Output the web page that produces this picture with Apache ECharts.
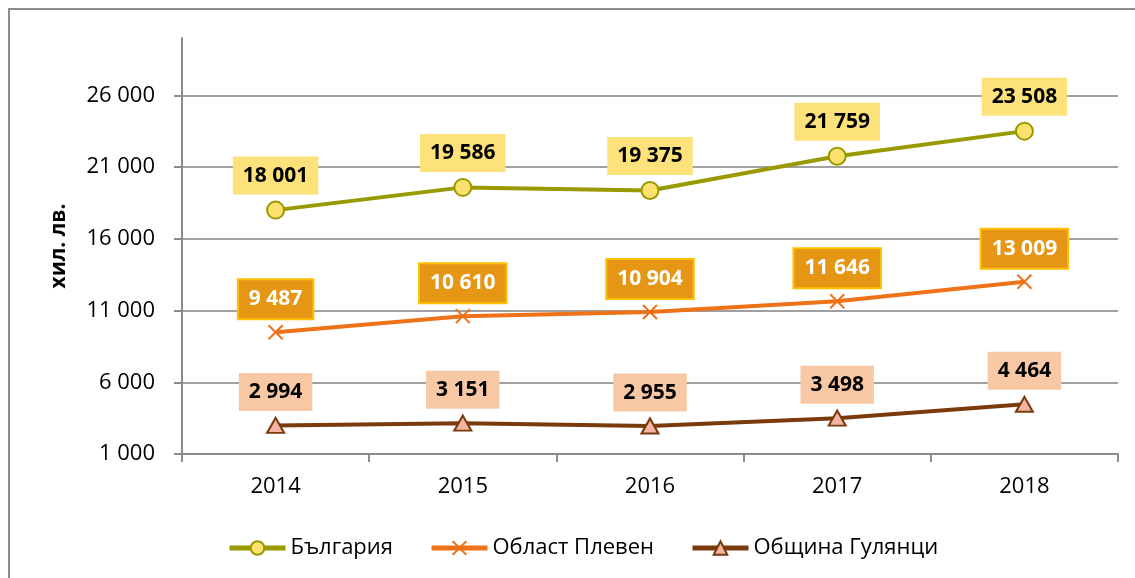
<!DOCTYPE html>
<html>
<head>
<meta charset="utf-8">
<script src="https://cdn.jsdelivr.net/npm/echarts@6/dist/echarts.min.js"></script>
<style>
    html, body { margin: 0; padding: 0; background: #fff; overflow: hidden; }
    #frame { position: absolute; left: 8px; top: 8px; width: 1300px; height: 800px; border: 2px solid #8c8c8c; }
    #chart { position: absolute; left: 0; top: 0; width: 1135px; height: 578px; }
</style>
</head>
<body>
<div id="frame"></div>
<div id="chart"></div>
<script>
// данни
const years = ['2014', '2015', '2016', '2017', '2018'];
const bulgaria = [18001, 19586, 19375, 21759, 23508];
const pleven = [9487, 10610, 10904, 11646, 13009];
const gulyantsi = [2994, 3151, 2955, 3498, 4464];
const yTicks = [1000, 6000, 11000, 16000, 21000, 26000];

const font = '"Open Sans", "Noto Sans", sans-serif';

// 18001 -> "18 001"
function fmt(v) {
    return String(v).replace(/\B(?=(\d{3})+(?!\d))/g, ' ');
}

let chartNode = echarts.init(document.getElementById('chart'));

function labelOpt(bg, color, border) {
    return {
        show: true,
        position: 'top',
        distance: 6,
        formatter: (p) => fmt(p.value),
        backgroundColor: bg,
        borderColor: border || bg,
        borderWidth: border ? 2 : 0,
        padding: [8, 10, 8, 10],
        lineHeight: 22,
        color: color,
        fontFamily: font,
        fontWeight: 'bold',
        fontSize: 21
    };
}

let option = {
    animation: false,
    textStyle: { fontFamily: font },
    grid: {
        left: 182,
        right: 17,
        top: 38,
        bottom: 124
    },
    legend: {
        left: 222,
        top: 532,
        itemWidth: 56,
        itemHeight: 17,
        itemGap: 36,
        lineStyle: { width: 5 },
        textStyle: { fontFamily: font, fontSize: 22, color: '#000' },
        data: ['България', 'Област Плевен', 'Община Гулянци']
    },
    xAxis: {
        type: 'category',
        data: years,
        boundaryGap: true,
        axisLine: { lineStyle: { color: '#8c8c8c', width: 2 } },
        axisTick: { show: true, length: 8, lineStyle: { color: '#8c8c8c', width: 2 } },
        axisLabel: { color: '#000', fontSize: 22, margin: 22, fontFamily: font },
        splitLine: { show: false }
    },
    yAxis: {
        type: 'value',
        min: 1000,
        max: 30000,
        interval: 5000,
        name: 'хил. лв.',
        nameLocation: 'middle',
        nameGap: 112,
        nameRotate: 90,
        nameTextStyle: { fontFamily: font, fontWeight: 'bold', fontSize: 21, color: '#000' },
        axisLine: { show: true, lineStyle: { color: '#8c8c8c', width: 2 } },
        axisTick: { show: true, length: 8, customValues: yTicks, lineStyle: { color: '#8c8c8c', width: 2 } },
        axisLabel: {
            customValues: yTicks,
            color: '#000',
            fontSize: 22,
            margin: 27,
            fontFamily: font,
            formatter: (v) => fmt(v)
        },
        splitLine: {
            show: true,
            lineStyle: { color: '#a0a0a0', width: 2 }
        }
    },
    series: [
        {
            name: 'България',
            type: 'line',
            data: bulgaria,
            symbol: 'circle',
            symbolSize: 17,
            lineStyle: { color: '#999900', width: 4 },
            itemStyle: { color: '#fde16e', borderColor: '#999900', borderWidth: 2 },
            label: labelOpt('#fde17a', '#000')
        },
        {
            name: 'Област Плевен',
            type: 'line',
            data: pleven,
            symbol: 'path://M0,0L10,10M10,0L0,10',
            symbolSize: 14,
            lineStyle: { color: '#ee7218', width: 4 },
            itemStyle: { color: '#ee7218', borderColor: '#ee7218', borderWidth: 2 },
            label: labelOpt('#e59615', '#fff', '#ffc000')
        },
        {
            name: 'Община Гулянци',
            type: 'line',
            data: gulyantsi,
            symbol: 'triangle',
            symbolSize: [17, 15],
            lineStyle: { color: '#7a3a0c', width: 4 },
            itemStyle: { color: '#f4b4a0', borderColor: '#7a3a0c', borderWidth: 2 },
            label: labelOpt('#f8c8a5', '#000')
        }
    ]
};

chartNode.setOption(option);
</script>
</body>
</html>
